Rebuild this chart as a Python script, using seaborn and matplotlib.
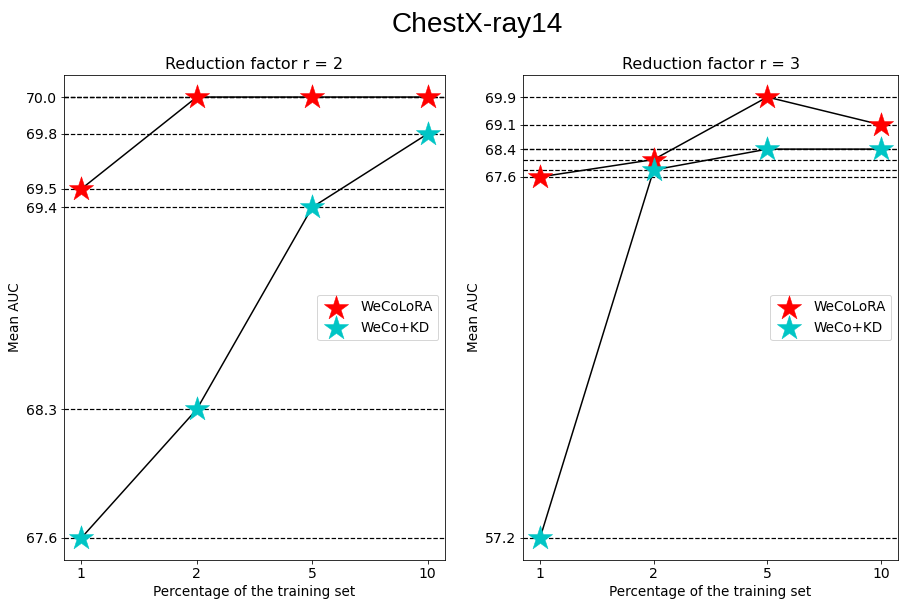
import matplotlib
matplotlib.use("Agg")
import matplotlib.pyplot as plt
import seaborn as sns
import pandas as pd

plt.rcdefaults()
plt.rcParams['font.family'] = ['DejaVu Sans']

x_labels = ["1", "2", "5", "10"]
r2_wecolora = [69.5, 70.0, 70.0, 70.0]
r2_wecokd = [67.6, 68.3, 69.4, 69.8]
r2_yticks = [67.6, 68.3, 69.4, 69.5, 69.8, 70.0]

r3_wecolora = [67.6, 68.1, 69.9, 69.1]
r3_wecokd = [57.2, 67.8, 68.4, 68.4]
r3_yticks = [57.2, 67.6, 68.4, 69.1, 69.9]

titles = ["Reduction factor r = 2", "Reduction factor r = 3"]

DPI = 72
W, H = 899, 600
fig = plt.figure(figsize=(W / DPI, H / DPI), dpi=DPI)
ax1 = fig.add_axes([64 / W, 1 - 560 / H, 381 / W, 485 / H])
ax2 = fig.add_axes([523 / W, 1 - 560 / H, 375 / W, 485 / H])

panels = [
    (ax1, r2_wecolora, r2_wecokd, r2_yticks, titles[0]),
    (ax2, r3_wecolora, r3_wecokd, r3_yticks, titles[1]),
]

for ax, a, b, yt, title in panels:
    pos = list(range(len(x_labels)))
    for v in a + b:
        ax.axhline(v, color="k", linestyle="--", linewidth=1.2, zorder=1)
    dfa = pd.DataFrame({"x": pos, "y": a})
    dfb = pd.DataFrame({"x": pos, "y": b})
    sns.lineplot(data=dfa, x="x", y="y", color="k", linewidth=1.5, ax=ax, zorder=2)
    sns.scatterplot(data=dfa, x="x", y="y", marker="*", s=650, color="red",
                    edgecolor="red", linewidth=0.5, label="WeCoLoRA", ax=ax, zorder=3)
    sns.lineplot(data=dfb, x="x", y="y", color="k", linewidth=1.5, ax=ax, zorder=4)
    sns.scatterplot(data=dfb, x="x", y="y", marker="*", s=650, color="#00c5c5",
                    edgecolor="#00c5c5", linewidth=0.5, label="WeCo+KD", ax=ax, zorder=5)
    ax.set_xticks(pos)
    ax.set_xticklabels(x_labels, fontsize=14)
    ax.set_yticks(yt)
    ax.set_yticklabels([f"{v:.1f}" for v in yt], fontsize=14)
    lo, hi = min(a + b), max(a + b)
    m = (hi - lo) * 0.05
    ax.set_ylim(lo - m, hi + m)
    ax.set_xlim(-0.15, 3.15)
    ax.set_xlabel("Percentage of the training set", fontsize=13.5)
    ax.set_ylabel("Mean AUC", fontsize=13.5)
    ax.set_title(title, fontsize=16)
    ax.legend(loc="center right", fontsize=13.5, frameon=True)

fig.suptitle("ChestX-ray14", fontsize=28, x=477 / W, y=0.98,
             family=["Liberation Sans", "DejaVu Sans"])
fig.savefig("out.png", dpi=DPI)
